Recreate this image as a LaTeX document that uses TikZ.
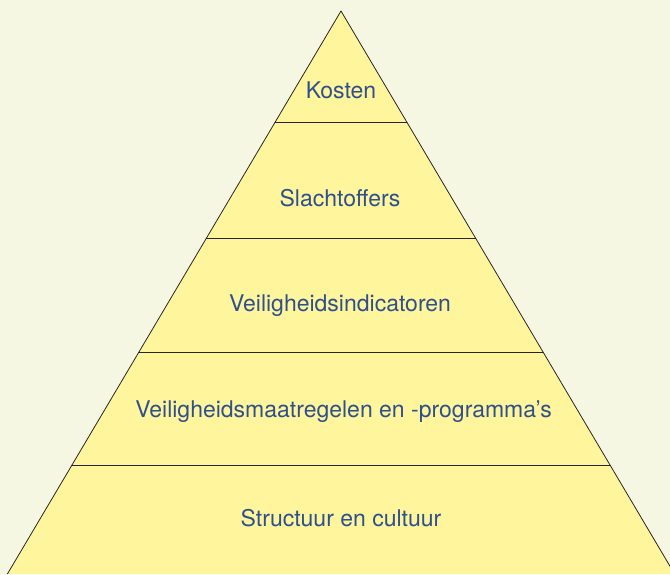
\documentclass[tikz,border=0pt]{standalone}
\usepackage{fontspec}
\setmainfont{TeX Gyre Heros}
\definecolor{paper}{HTML}{F6F7E3}
\definecolor{layer}{HTML}{FFF59C}
\definecolor{labelblue}{HTML}{2E508C}
\tikzset{edge/.style={black!85,line width=0.8pt,line join=round},
  layerlabel/.style={text=labelblue,anchor=base,inner sep=0pt,font=\fontsize{23}{27}\selectfont}}

\begin{document}
\begin{tikzpicture}[x=1pt,y=-1pt]
    \fill[paper] (0,0) rectangle (670,574);
    \useasboundingbox (0,0) rectangle (670,574);
    \clip (0,0) rectangle (670,574);

    % pyramid
    \coordinate (TOP) at (341,11);
    \coordinate (BL) at (7.4,574);
    \coordinate (BR) at (674.6,574);
    \fill[layer] (TOP) -- (BL) -- (BR) -- cycle;
    \begin{scope}
      \clip (TOP) -- (BL) -- (BR) -- cycle;
      \foreach \y in {122,238,352,465}
        \draw[edge] (0,\y) -- (670,\y);
    \end{scope}
    \draw[edge] (BL) -- (TOP) -- (BR);

    % layers
    \node[layerlabel] (KOSTEN) at (341,98.5) {Kosten};
    \node[layerlabel] (SLACHTOFFERS) at (340,206) {Slachtoffers};
    \node[layerlabel] (INDICATOREN) at (340,311.5) {Veiligheidsindicatoren};
    \node[layerlabel] (MAATREGELEN) at (343.5,417) {Veiligheidsmaatregelen en -programma’s};
    \node[layerlabel] (CULTUUR) at (341,526) {Structuur en cultuur};
\end{tikzpicture}
\end{document}
